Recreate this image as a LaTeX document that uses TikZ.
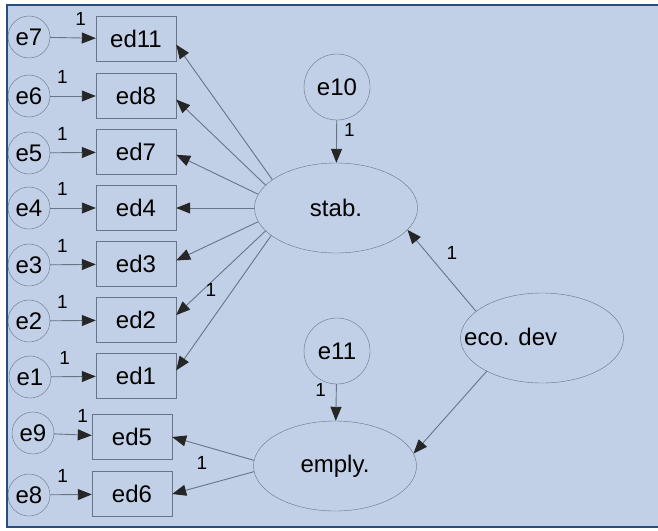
\documentclass[tikz,border=0pt]{standalone}
\usepackage{fontspec}
\setmainfont{Liberation Sans}
\usetikzlibrary{arrows.meta,shapes.geometric,positioning}

\definecolor{amosbg}{RGB}{193,208,230}
\definecolor{amosframe}{RGB}{38,78,128}
\definecolor{amosline}{RGB}{105,116,134}

\tikzset{
  obs/.style={draw=amosline, rectangle, minimum width=80pt, minimum height=45pt,
    inner sep=1pt, font=\fontsize{24}{26}\selectfont},
  err/.style={draw=amosline, circle, minimum size=42pt, inner sep=0pt,
    font=\fontsize{24}{26}\selectfont},
  bigerr/.style={err, minimum size=66pt},
  latent/.style={draw=amosline, ellipse, minimum width=163pt, minimum height=90pt,
    inner sep=1pt, font=\fontsize{24}{26}\selectfont},
  arr/.style={draw=amosline, line width=0.9pt,
    -{Triangle[length=14pt,width=11pt,color=black!85]}},
  one/.style={font=\fontsize{19}{21}\selectfont, inner sep=2pt}
}

\begin{document}
\begin{tikzpicture}[x=1pt, y=-1pt]
  % Canvas and frame.
  \useasboundingbox (0,0) rectangle (658,530);
  \fill[amosbg] (7,5) rectangle (658,527);
  \draw[amosframe, line width=2pt] (658,5) -- (7,5) -- (7,527) -- (658,527);

  % Observed indicators with their error terms.
  \foreach \e/\ed/\ex/\ey/\bx/\by/\p in {7/11/29/37/136/39/0.67,
      6/8/29/96/136/96/0.27, 5/7/29/153/136/152/0.27,
      4/4/29/208/136/208/0.27, 3/3/29/265/136/264/0.27,
      2/2/29/321/136/320/0.27, 1/1/30/377/136/376/0.3,
      9/5/33/433/132/437/0.76, 8/6/29/495/132/494/0.3}{
    \node[obs] (ed\ed) at (\bx,\by) {ed\ed};
    \node[err] (e\e) at (\ex,\ey) {e\e};
    \draw[arr] (e\e) -- node[one, pos=\p, above=10pt] (l\e) {1} (ed\ed);
  }

  % Latent factors and their disturbances.
  \node[latent] (stab) at (336,208) {stab.};
  \node[latent] (emply) at (335,466) {emply.};
  \node[latent] (eco) at (542,338) {};
  \node[anchor=west, inner sep=1pt, font=\fontsize{24}{26}\selectfont]
    (ecotext) at (463,337) {eco. dev};
  \node[bigerr] (e10) at (337,87) {e10};
  \node[bigerr] (e11) at (337,351) {e11};

  \draw[arr] (e10) -- node[one, pos=0.23, right=5pt] (l10) {1} (stab);
  \draw[arr] (e11) -- node[one, pos=0.16, left=8pt] (l11) {1} (emply);

  % Loadings of stab.
  \foreach \ed/\a/\b in {11/156/-8, 8/162/-5, 7/170/-4, 4/180/0,
      3/190/5, 2/198/7, 1/203/8}{
    \draw[arr] (stab.\a) -- (ed\ed.\b);
  }
  \node[one] (lst) at (211,290) {1};

  % Loadings of emply.
  \draw[arr] (emply.176) -- (ed5.east);
  \draw[arr] (emply.184) -- (ed6.east);
  \node[one] (lem) at (202,463) {1};

  % Paths from eco. dev
  \draw[arr] (eco.158) -- (stab.-17);
  \draw[arr] (eco.211) -- (emply.9);
  \node[one] (leco) at (452,253) {1};
\end{tikzpicture}
\end{document}
